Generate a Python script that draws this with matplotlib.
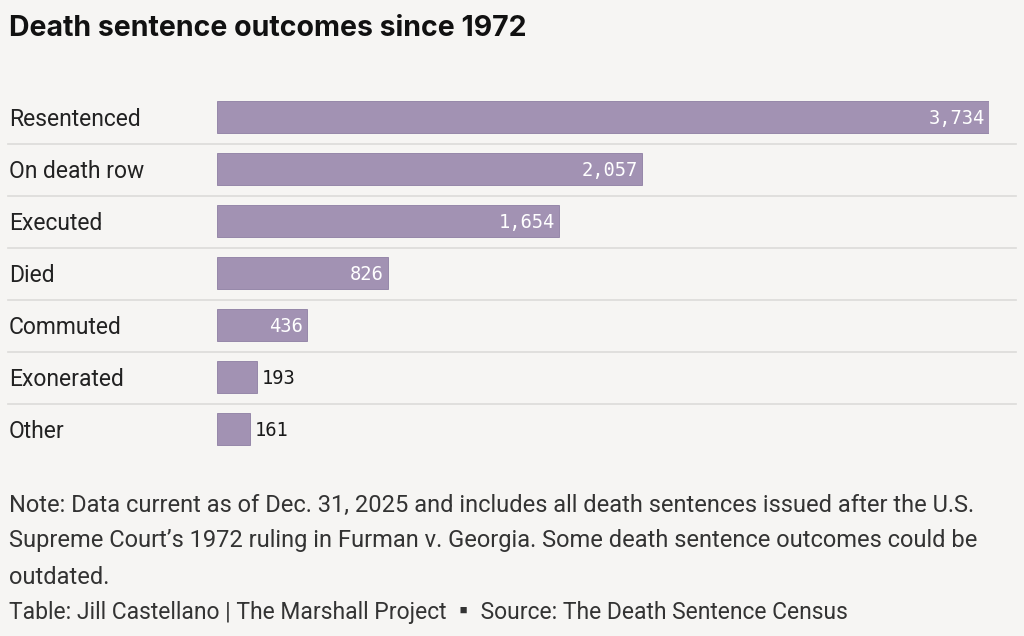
import matplotlib
matplotlib.use("Agg")
import matplotlib.pyplot as plt
from matplotlib.lines import Line2D

categories = ["Resentenced", "On death row", "Executed", "Died", "Commuted", "Exonerated", "Other"]
values = [3734, 2057, 1654, 826, 436, 193, 161]

BG = "#f6f5f3"
BAR = "#a292b3"
W, H = 1024, 636
fig = plt.figure(figsize=(W/100, H/100), dpi=100, facecolor=BG)

def fx(px): return px / W
def fy(py): return 1 - py / H

ax = fig.add_axes([fx(217), fy(455), fx(989) - fx(217), (455 - 91) / H])
ax.set_facecolor("none")
ys = list(range(len(categories)))
ax.barh(ys, values, height=32/52, color=BAR, edgecolor="#8e7ea3", linewidth=0.6)
ax.set_xlim(0, max(values))
ax.set_ylim(len(categories) - 0.5, -0.5)
ax.axis("off")

for y, v in zip(ys, values):
    s = f"{v:,}"
    if v > 300:
        ax.text(v - 20, y + 0.03, s, ha="right", va="center", color="white",
                family="DejaVu Sans Mono", fontsize=13.5)
    else:
        ax.text(v + 22, y + 0.03, s, ha="left", va="center", color="#1a1a1a",
                family="DejaVu Sans Mono", fontsize=13.5)

for i, c in enumerate(categories):
    cy = 119 + 52 * i
    fig.text(fx(9), fy(cy), c, ha="left", va="center", fontsize=16.5,
             family="Roboto", color="#222222")
    if i < len(categories) - 1:
        fig.add_artist(Line2D([fx(8), fx(1016)], [fy(cy + 25)] * 2,
                              color="#dcdbd9", linewidth=1.2))

fig.text(fx(9), fy(29), "Death sentence outcomes since 1972", ha="left", va="center",
         fontsize=20.5, fontweight="bold", family="Inter", color="#111111")

note_lines = ["Note: Data current as of Dec. 31, 2025 and includes all death sentences issued after the U.S.",
              "Supreme Court\u2019s 1972 ruling in Furman v. Georgia. Some death sentence outcomes could be",
              "outdated."]
for k, ln in enumerate(note_lines):
    fig.text(fx(9), fy(505 + 36 * k), ln, ha="left", va="center", fontsize=17,
             family="Roboto", color="#333333")
fig.text(fx(9), fy(613), "Table: Jill Castellano | The Marshall Project \u25aa Source: The Death Sentence Census",
         ha="left", va="center", fontsize=16.5, family=["Roboto", "Noto Sans CJK SC", "DejaVu Sans"],
         color="#333333")

fig.savefig("out.png", dpi=100, facecolor=BG)
